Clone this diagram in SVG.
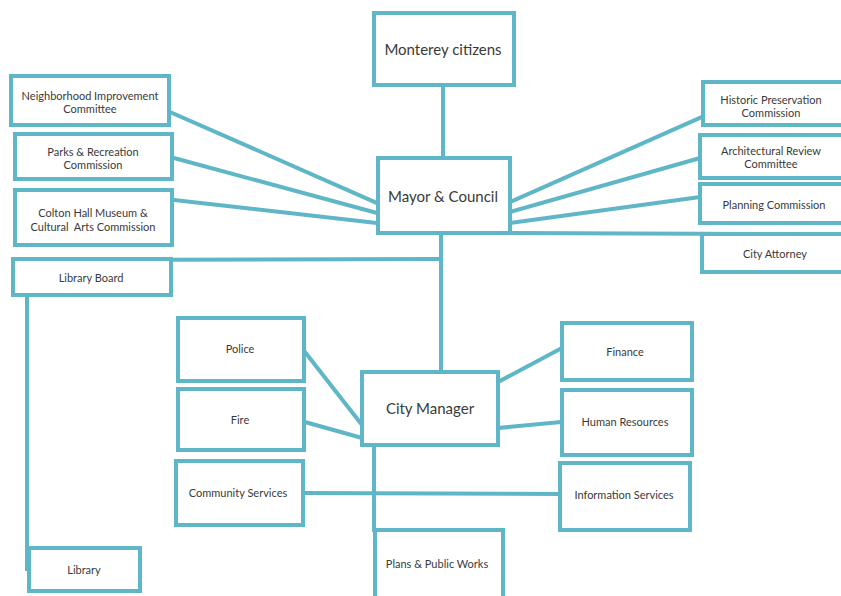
<svg xmlns="http://www.w3.org/2000/svg" width="841" height="596" viewBox="0 0 841 596">
<style>
.b{fill:#fff;stroke:#5fb6c6;stroke-width:4}
.c{fill:none;stroke:#5fb6c6;stroke-width:4;stroke-linecap:square}
text{font-family:Lato,"Liberation Sans",sans-serif;fill:#3a3a3a;text-anchor:middle;dominant-baseline:central}
.s{font-size:11px}
.m{font-size:15px}
</style>
<rect width="841" height="596" fill="#fff"/>
<g id="connectors">
<line class="c" x1="443" y1="86" x2="443" y2="158"/>
<line class="c" x1="441" y1="233" x2="441" y2="372"/>
<line class="c" x1="170" y1="112" x2="377" y2="203"/>
<line class="c" x1="174" y1="158" x2="377" y2="213"/>
<line class="c" x1="174" y1="200" x2="377" y2="223"/>
<line class="c" x1="90" y1="260" x2="441" y2="259"/>
<line class="c" x1="27" y1="295" x2="27" y2="569"/>
<line class="c" x1="27" y1="569" x2="30" y2="569"/>
<line class="c" x1="510" y1="202" x2="702" y2="117"/>
<line class="c" x1="510" y1="212" x2="700" y2="158"/>
<line class="c" x1="510" y1="223" x2="700" y2="197"/>
<line class="c" x1="510" y1="233" x2="780" y2="234"/>
<line class="c" x1="305" y1="352" x2="362" y2="425"/>
<line class="c" x1="305" y1="422" x2="362" y2="438"/>
<line class="c" x1="498" y1="382" x2="562" y2="348"/>
<line class="c" x1="498" y1="428" x2="562" y2="422"/>
<line class="c" x1="374" y1="445" x2="374" y2="530"/>
<line class="c" x1="303" y1="493" x2="560" y2="494"/>
</g>
<g id="monterey"><rect class="b" x="374" y="13" width="140" height="72"/><text class="m" x="443" y="49">Monterey citizens</text></g>
<g id="mayor"><rect class="b" x="378" y="158" width="132" height="75"/><text class="m" x="443" y="196">Mayor &amp; Council</text></g>
<g id="neighborhood"><rect class="b" x="11" y="76" width="158" height="49"/><text class="s" x="90" y="95">Neighborhood Improvement</text><text class="s" x="90" y="108">Committee</text></g>
<g id="parks"><rect class="b" x="15" y="134" width="157" height="45"/><text class="s" x="93" y="151">Parks &amp; Recreation</text><text class="s" x="93" y="164">Commission</text></g>
<g id="colton"><rect class="b" x="15" y="190" width="157" height="55"/><text class="s" x="93" y="212">Colton Hall Museum &amp;</text><text class="s" x="93" y="226" xml:space="preserve">Cultural  Arts Commission</text></g>
<g id="libraryboard"><rect class="b" x="13" y="259" width="158" height="36"/><text class="s" x="91" y="277">Library Board</text></g>
<g id="library"><rect class="b" x="29" y="548" width="111" height="43"/><text class="s" x="84" y="569">Library</text></g>
<g id="historic"><rect class="b" x="703" y="82" width="140" height="43"/><text class="s" x="771" y="99">Historic Preservation</text><text class="s" x="771" y="112">Commission</text></g>
<g id="architectural"><rect class="b" x="700" y="135" width="143" height="43"/><text class="s" x="771" y="150">Architectural Review</text><text class="s" x="771" y="163">Committee</text></g>
<g id="planning"><rect class="b" x="700" y="184" width="143" height="39"/><text class="s" x="774" y="204">Planning Commission</text></g>
<g id="attorney"><rect class="b" x="702" y="234" width="141" height="38"/><text class="s" x="775" y="253">City Attorney</text></g>
<g id="citymanager"><rect class="b" x="362" y="372" width="136" height="73"/><text class="m" x="430" y="408">City Manager</text></g>
<g id="police"><rect class="b" x="178" y="318" width="126" height="63"/><text class="s" x="240" y="348">Police</text></g>
<g id="fire"><rect class="b" x="178" y="389" width="126" height="61"/><text class="s" x="240" y="419">Fire</text></g>
<g id="community"><rect class="b" x="176" y="461" width="127" height="64"/><text class="s" x="238" y="492">Community Services</text></g>
<g id="finance"><rect class="b" x="562" y="323" width="130" height="57"/><text class="s" x="625" y="351">Finance</text></g>
<g id="hr"><rect class="b" x="562" y="390" width="130" height="65"/><text class="s" x="625" y="421">Human Resources</text></g>
<g id="info"><rect class="b" x="560" y="463" width="130" height="67"/><text class="s" x="624" y="494">Information Services</text></g>
<g id="plans"><rect class="b" x="375" y="530" width="128" height="70"/><text class="s" x="437" y="563">Plans &amp; Public Works</text></g>
</svg>
